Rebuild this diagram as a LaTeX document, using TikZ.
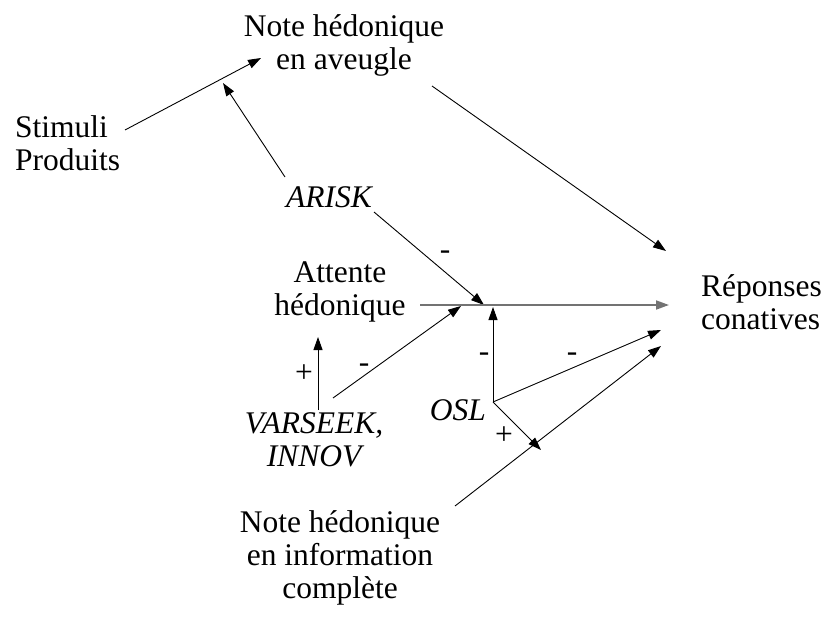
\documentclass[tikz,border=0pt]{standalone}
\usepackage{fontspec}
\setmainfont{Liberation Serif}
\usetikzlibrary{arrows.meta,positioning}
\tikzset{
  tlab/.style  ={align=center, inner sep=1pt, font=\fontsize{31.5}{33}\selectfont},
  tvar/.style  ={tlab, font=\fontsize{31.5}{33}\selectfont\itshape},
  tsign/.style ={inner sep=0pt, font=\fontsize{31.5}{31.5}\selectfont},
  tar/.style   ={-{Triangle[length=13pt,width=9pt]}, line width=0.9pt, black},
  tmain/.style ={tar, line width=1.8pt, black!55},
}

\begin{document}
\begin{tikzpicture}[x=1pt, y=-1pt]
\useasboundingbox (0,0) rectangle (826,639);

\node[tlab] (blind) at (344,45) {Note hédonique\\en aveugle};
\node[tlab, align=left, anchor=west] (stim) at (14,143) {Stimuli\\Produits};
\node[tvar] (arisk) at (329,197) {ARISK};
\node[tlab] (att) at (340,292) {Attente\\hédonique};
\node[tlab, align=left, anchor=west] (rep) at (700,302) {Réponses\\conatives};
\node[tvar] (vars) at (314,440) {VARSEEK,\\INNOV};
\node[tvar] (osl) at (458,410) {OSL};
\node[tlab] (full) at (340,558) {Note hédonique\\en information\\complète};

% points on the links
\coordinate (s0) at (125,130);
\coordinate (sB) at (261,58);
\coordinate (sR) at (223,83);
\coordinate (a0) at (432,86);
\coordinate (rA) at (666,251);
\coordinate (j0) at (420,305);
\coordinate (j1) at (669,305);
\coordinate (jA) at (484,305);
\coordinate (jV) at (461,306);
\coordinate (jO) at (493,307);
\coordinate (o0) at (493,402);
\coordinate (rO) at (661,330);
\coordinate (rF) at (661,346);
\coordinate (oP) at (541,450);
\coordinate (v0) at (318,410);
\coordinate (vU) at (318,337);
\coordinate (v1) at (333,398);
\coordinate (f0) at (455,506);
\coordinate (r0) at (285,177);
\coordinate (r1) at (374,212);

\draw[tar] (s0) -- (sB);
\draw[tar] (r0) -- (sR);
\draw[tar] (a0) -- (rA);
\draw[tar] (r1) -- (jA);
\draw[tmain] (j0) -- (j1);
\draw[tar] (v0) -- (vU);
\draw[tar] (v1) -- (jV);
\draw[tar] (o0) -- (jO);
\draw[tar] (o0) -- (rO);
\draw[tar] (o0) -- (oP);
\draw[tar] (f0) -- (rF);

\node[tsign] (m1) at (445,255) {-};
\node[tsign] (p1) at (304,374) {+};
\node[tsign] (m2) at (364,368) {-};
\node[tsign] (m3) at (484,357) {-};
\node[tsign] (m4) at (572,357) {-};
\node[tsign] (p2) at (504,436) {+};

\end{tikzpicture}
\end{document}
